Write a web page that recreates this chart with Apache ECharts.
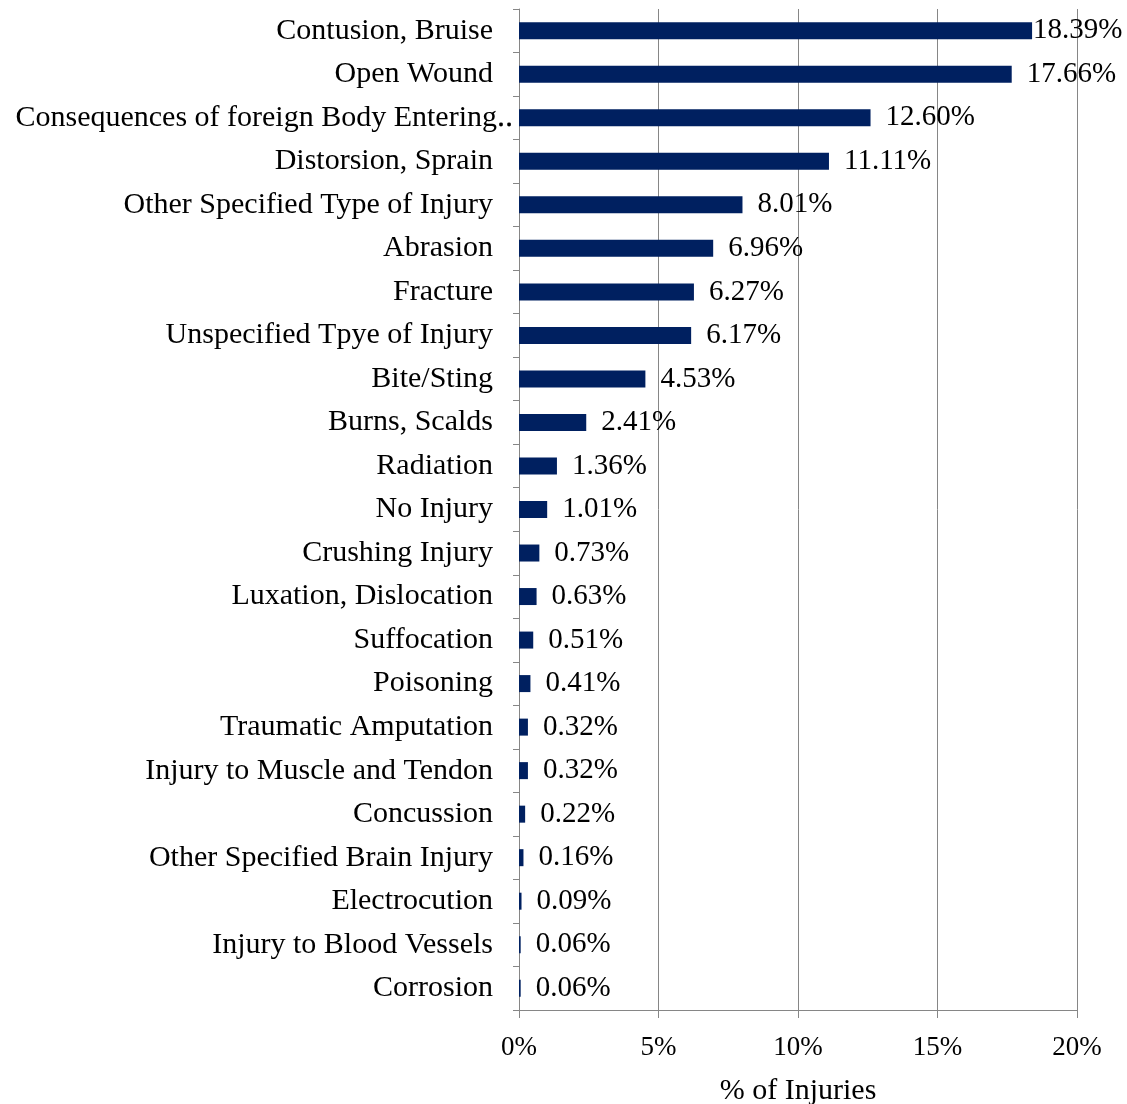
<!DOCTYPE html>
<html>
<head>
<meta charset="utf-8">
<style>
  html, body { margin: 0; padding: 0; background: #fff; }
  #chart { width: 1127px; height: 1104px; }
</style>
<script src="https://cdn.jsdelivr.net/npm/echarts@6/dist/echarts.min.js"></script>
</head>
<body>
<div id="chart"></div>
<script>
// injury types, top to bottom
var categories = [
  'Contusion, Bruise', 'Open Wound', 'Consequences of foreign Body Entering\u2025',
  'Distorsion, Sprain', 'Other Specified Type of Injury', 'Abrasion', 'Fracture',
  'Unspecified Tpye of Injury', 'Bite/Sting', 'Burns, Scalds', 'Radiation',
  'No Injury', 'Crushing Injury', 'Luxation, Dislocation', 'Suffocation',
  'Poisoning', 'Traumatic Amputation', 'Injury to Muscle and Tendon', 'Concussion',
  'Other Specified Brain Injury', 'Electrocution', 'Injury to Blood Vessels', 'Corrosion'
];

// % of injuries
var shares = [
  18.39, 17.66, 12.60, 11.11, 8.01, 6.96, 6.27, 6.17, 4.53, 2.41, 1.36, 1.01,
  0.73, 0.63, 0.51, 0.41, 0.32, 0.32, 0.22, 0.16, 0.09, 0.06, 0.06
];

var xTicks = [0, 5, 10, 15, 20];

var font = '"Liberation Serif", "Times New Roman", serif';
var gray = '#868686';

// first label sits against the bar end, the rest keep a gap
var barData = shares.map((v, i) => ({
  value: v,
  label: { distance: i === 0 ? 1 : 15 }
}));

var option = {
  animation: false,
  grid: { left: 519, right: 50, top: 9, bottom: 94, containLabel: false, outerBoundsMode: 'none' },
  xAxis: {
    type: 'value',
    min: xTicks[0],
    max: xTicks[xTicks.length - 1],
    interval: 5,
    name: '% of Injuries',
    nameLocation: 'middle',
    nameGap: 66,
    nameTextStyle: { fontFamily: font, fontSize: 30, color: '#000' },
    axisLine: { show: true, lineStyle: { color: gray, width: 1 } },
    axisTick: { show: true, length: 8, lineStyle: { color: gray } },
    axisLabel: {
      margin: 24,
      fontFamily: font, fontSize: 27, color: '#000',
      formatter: v => v + '%'
    },
    splitLine: { show: true, lineStyle: { color: gray, width: 1 } }
  },
  yAxis: {
    type: 'category',
    data: categories,
    inverse: true,
    axisLine: { show: true, lineStyle: { color: gray, width: 1 } },
    axisTick: { show: true, length: 6, alignWithLabel: false, lineStyle: { color: gray } },
    axisLabel: {
      margin: 26,
      fontFamily: font, fontSize: 30, color: '#000',
      // the cut-off label spills its dots past the edge
      formatter: v => v.endsWith('\u2025') ? '{c|' + v + '}' : v,
      rich: { c: { padding: [0, -20, 0, 0], fontFamily: font, fontSize: 30, color: '#000' } }
    },
    splitLine: { show: false }
  },
  series: [{
    type: 'bar',
    data: barData,
    barWidth: 17,
    itemStyle: { color: '#002060' },
    label: {
      show: true,
      position: 'right',
      fontFamily: font, fontSize: 29, color: '#000',
      formatter: p => p.value.toFixed(2) + '%'
    }
  }]
};

var myChart = echarts.init(document.getElementById('chart'));
myChart.setOption(option);
</script>
</body>
</html>
